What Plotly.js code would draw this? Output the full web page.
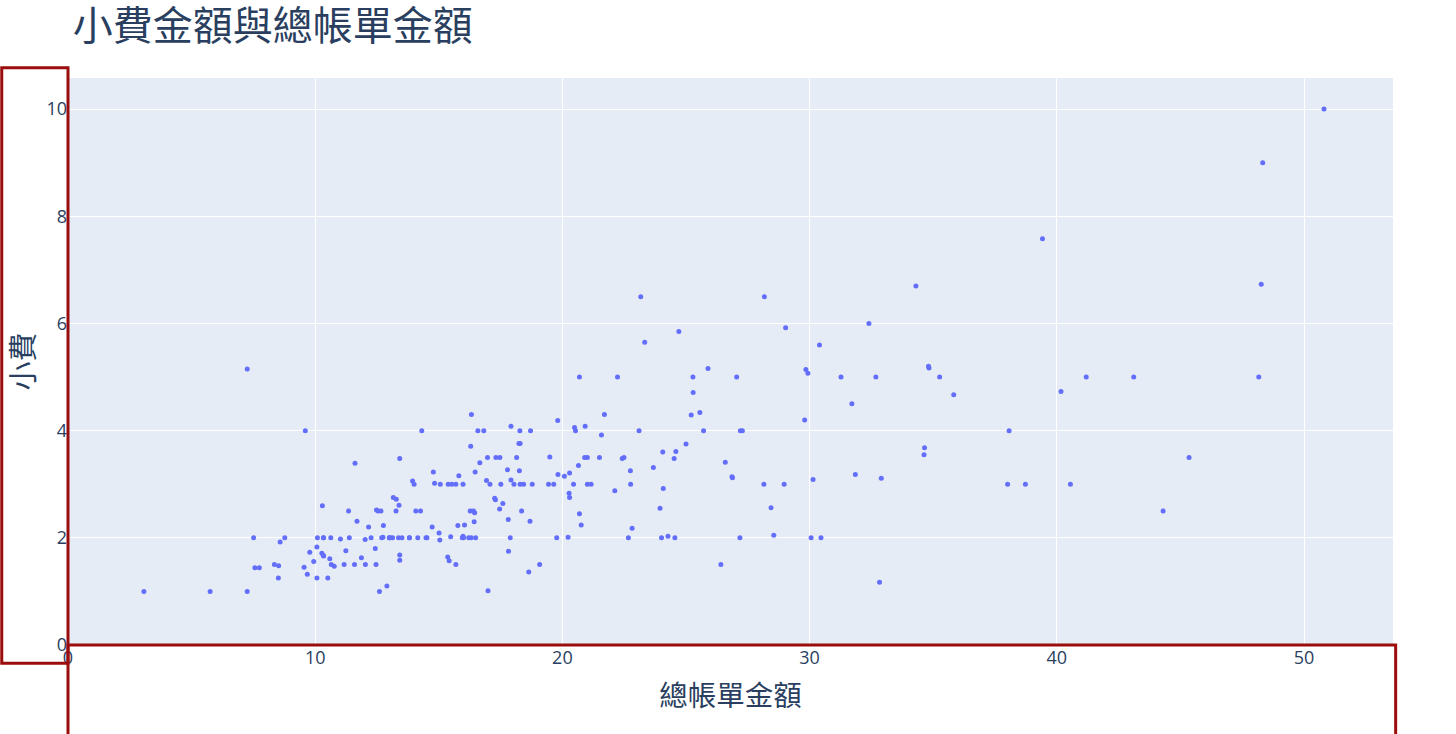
<!DOCTYPE html>
<html>
<head>
<meta charset="utf-8">
<script src="https://cdn.plot.ly/plotly-3.0.1.min.js"></script>
<style>
  html, body { margin: 0; padding: 0; background: #fff; }
  #chart { width: 1456px; height: 734px; }
</style>
</head>
<body>
<div id="chart"></div>
<script>
// 總帳單金額 (total bill)
var totalBill = [
  16.99, 10.34, 21.01, 23.68, 24.59, 25.29, 8.77, 26.88, 15.04, 14.78,
  10.27, 35.26, 15.42, 18.43, 14.83, 21.58, 10.33, 16.29, 16.97, 20.65,
  17.92, 20.29, 15.77, 39.42, 19.82, 17.81, 13.37, 12.69, 21.70, 19.65,
  9.55, 18.35, 15.06, 20.69, 17.78, 24.06, 16.31, 16.93, 18.69, 31.27,
  16.04, 17.46, 13.94, 9.68, 30.40, 18.29, 22.23, 32.40, 28.55, 18.04,
  12.54, 10.29, 34.81, 9.94, 25.56, 19.49, 38.01, 26.41, 11.24, 48.27,
  20.29, 13.81, 11.02, 18.29, 17.59, 20.08, 16.45, 3.07, 20.23, 15.01,
  12.02, 17.07, 26.86, 25.28, 14.73, 10.51, 17.92, 27.20, 22.76, 17.29,
  19.44, 16.66, 10.07, 32.68, 15.98, 34.83, 13.03, 18.28, 24.71, 21.16,
  28.97, 22.49, 5.75, 16.32, 22.75, 40.17, 27.28, 12.03, 21.01, 12.46,
  11.35, 15.38, 44.30, 22.42, 20.92, 15.36, 20.49, 25.21, 18.24, 14.31,
  14.00, 7.25, 38.07, 23.95, 25.71, 17.31, 29.93, 10.65, 12.43, 24.08,
  11.69, 13.42, 14.26, 15.95, 12.48, 29.80, 8.52, 14.52, 11.38, 22.82,
  19.08, 20.27, 11.17, 12.26, 18.26, 8.51, 10.33, 14.15, 16.00, 13.16,
  17.47, 34.30, 41.19, 27.05, 16.43, 8.35, 18.64, 11.87, 9.78, 7.51,
  14.07, 13.13, 17.26, 24.55, 19.77, 29.85, 48.17, 25.00, 13.39, 16.49,
  21.50, 12.66, 16.21, 13.81, 17.51, 24.52, 20.76, 31.71, 10.59, 10.63,
  50.81, 15.81, 7.25, 31.85, 16.82, 32.90, 17.89, 14.48, 9.60, 34.63,
  34.65, 23.33, 45.35, 23.17, 40.55, 20.69, 20.90, 30.46, 18.15, 23.10,
  15.69, 19.81, 28.44, 15.48, 16.58, 7.56, 10.34, 43.11, 13.00, 13.51,
  18.71, 12.74, 13.00, 16.40, 20.53, 16.47, 26.59, 38.73, 24.27, 12.76,
  30.06, 25.89, 48.33, 13.27, 28.17, 12.90, 28.15, 11.59, 7.74, 30.14,
  12.16, 13.42, 8.58, 15.98, 13.42, 16.27, 10.09, 20.45, 13.28, 22.12,
  24.01, 15.69, 11.61, 10.77, 15.53, 10.07, 12.60, 32.83, 35.83, 29.03,
  27.18, 22.67, 17.82, 18.78
];

// 小費 (tip)
var tipAmount = [
  1.01, 1.66, 3.50, 3.31, 3.61, 4.71, 2.00, 3.12, 1.96, 3.23,
  1.71, 5.00, 1.57, 3.00, 3.02, 3.92, 1.67, 3.71, 3.50, 3.35,
  4.08, 2.75, 2.23, 7.58, 3.18, 2.34, 2.00, 2.00, 4.30, 3.00,
  1.45, 2.50, 3.00, 2.45, 3.27, 3.60, 2.00, 3.07, 2.31, 5.00,
  2.24, 2.54, 3.06, 1.32, 5.60, 3.00, 5.00, 6.00, 2.05, 3.00,
  2.50, 2.60, 5.20, 1.56, 4.34, 3.51, 3.00, 1.50, 1.76, 6.73,
  3.21, 2.00, 1.98, 3.76, 2.64, 3.15, 2.47, 1.00, 2.01, 2.09,
  1.97, 3.00, 3.14, 5.00, 2.20, 1.25, 3.08, 4.00, 3.00, 2.71,
  3.00, 3.40, 1.83, 5.00, 2.03, 5.17, 2.00, 4.00, 5.85, 3.00,
  3.00, 3.50, 1.00, 4.30, 3.25, 4.73, 4.00, 1.50, 3.00, 1.50,
  2.50, 3.00, 2.50, 3.48, 4.08, 1.64, 4.06, 4.29, 3.76, 4.00,
  3.00, 1.00, 4.00, 2.55, 4.00, 3.50, 5.07, 1.50, 1.80, 2.92,
  2.31, 1.68, 2.50, 2.00, 2.52, 4.20, 1.48, 2.00, 2.00, 2.18,
  1.50, 2.83, 1.50, 2.00, 3.25, 1.25, 2.00, 2.00, 2.00, 2.75,
  3.50, 6.70, 5.00, 5.00, 2.30, 1.50, 1.36, 1.63, 1.73, 2.00,
  2.50, 2.00, 2.74, 2.00, 2.00, 5.14, 5.00, 3.75, 2.61, 2.00,
  3.50, 2.50, 2.00, 2.00, 3.00, 3.48, 2.24, 4.50, 1.61, 2.00,
  10.00, 3.16, 5.15, 3.18, 4.00, 3.11, 2.00, 2.00, 4.00, 3.55,
  3.68, 5.65, 3.50, 6.50, 3.00, 5.00, 3.50, 2.00, 3.50, 4.00,
  1.50, 4.19, 2.56, 2.02, 4.00, 1.44, 2.00, 5.00, 2.00, 2.00,
  4.00, 2.01, 2.00, 2.50, 4.00, 3.23, 3.41, 3.00, 2.03, 2.23,
  2.00, 5.16, 9.00, 2.50, 6.50, 1.10, 3.00, 1.50, 1.44, 3.09,
  2.20, 3.48, 1.92, 3.00, 1.58, 2.50, 2.00, 3.00, 2.72, 2.88,
  2.00, 3.00, 3.39, 1.47, 3.00, 1.25, 1.00, 1.17, 4.67, 5.92,
  2.00, 2.00, 1.75, 3.00
];

var chartTitle = '小費金額與總帳單金額';
var xTitle = '總帳單金額';
var yTitle = '小費';

var fontFamily = '"Open Sans", "Noto Sans CJK TC", sans-serif';
var cjkFamily = '"Noto Sans CJK TC", "Open Sans", sans-serif';
var boxColor = '#9b0d0d';

var trace = {
    x: totalBill,
    y: tipAmount,
    type: 'scatter',
    mode: 'markers',
    marker: { color: '#636efa', size: 5 },
    hoverinfo: 'x+y'
};

var layout = {
    width: 1456,
    height: 734,
    paper_bgcolor: '#ffffff',
    plot_bgcolor: '#E5ECF6',
    font: { family: fontFamily, color: '#2a3f5f', size: 18 },
    margin: { l: 68, r: 63, t: 78, b: 89 },
    showlegend: false,
    title: {
        text: chartTitle,
        x: 0.05,
        xanchor: 'left',
        y: 0.965,
        yanchor: 'middle',
        font: { family: cjkFamily, size: 40, color: '#2a3f5f' }
    },
    xaxis: {
        title: { text: xTitle, font: { family: cjkFamily, size: 28.5 }, standoff: 18 },
        range: [0, 53.6],
        dtick: 10,
        gridcolor: '#ffffff',
        zeroline: false,
        ticks: '',
        tickfont: { size: 18 }
    },
    yaxis: {
        title: { text: yTitle, font: { family: cjkFamily, size: 29 }, standoff: 12 },
        range: [0, 10.58],
        dtick: 2,
        gridcolor: '#ffffff',
        zeroline: false,
        ticks: '',
        tickfont: { size: 18 }
    },
    shapes: [
        {
            type: 'rect', xref: 'paper', yref: 'paper',
            x0: -0.05, x1: 0, y0: -0.032, y1: 1.018,
            line: { color: boxColor, width: 3 },
            fillcolor: 'rgba(0,0,0,0)'
        },
        {
            type: 'rect', xref: 'paper', yref: 'paper',
            x0: 0, x1: 1.002, y0: -0.25, y1: 0,
            line: { color: boxColor, width: 3 },
            fillcolor: 'rgba(0,0,0,0)'
        }
    ]
};

document.addEventListener('DOMContentLoaded', function() {
    Plotly.newPlot('chart', [trace], layout, { displayModeBar: false, responsive: false });
});
</script>
</body>
</html>
